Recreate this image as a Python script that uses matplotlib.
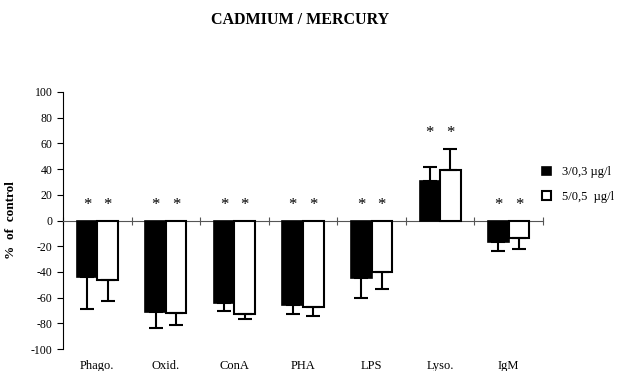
import numpy as np
import matplotlib
matplotlib.use('Agg')
import matplotlib.pyplot as plt
from matplotlib.transforms import blended_transform_factory

plt.rcParams['font.family'] = ['Liberation Serif', 'DejaVu Serif']
plt.rcParams['axes.unicode_minus'] = False

categories = ['Phago.', 'Oxid.', 'ConA', 'PHA', 'LPS', 'Lyso.', 'IgM']
low_dose = [-44, -71, -64, -66, -45, 30.5, -17]
low_err = [25, 12.5, 6.5, 6.5, 15.5, 11.5, 7]
high_dose = [-46, -72, -72.5, -67.5, -40, 39, -14]
high_err = [17, 9, 4.5, 7, 13, 17, 8.5]
series_labels = ['3/0,3 \u00b5g/l', '5/0,5  \u00b5g/l']

fig = plt.figure(figsize=(6.19, 3.71), dpi=100)
ax = fig.add_axes([63 / 619, 1 - 349 / 371, 480 / 619, 257 / 371])

x = np.arange(len(categories)) + 0.5
w = 0.3

ax.bar(x - w / 2, low_dose, w, color='black', edgecolor='black', linewidth=1.2,
       yerr=[[e if v < 0 else 0 for v, e in zip(low_dose, low_err)],
             [e if v > 0 else 0 for v, e in zip(low_dose, low_err)]],
       error_kw=dict(ecolor='black', elinewidth=1.5, capsize=5, capthick=1.5),
       label=series_labels[0], zorder=3)
ax.bar(x + w / 2, high_dose, w, color='white', edgecolor='black', linewidth=1.5,
       yerr=[[e if v < 0 else 0 for v, e in zip(high_dose, high_err)],
             [e if v > 0 else 0 for v, e in zip(high_dose, high_err)]],
       error_kw=dict(ecolor='black', elinewidth=1.5, capsize=5, capthick=1.5),
       label=series_labels[1], zorder=3)

# significance stars
for xi, v1, e1, v2, e2 in zip(x, low_dose, low_err, high_dose, high_err):
    ystar = 12 if v1 < 0 else max(v1 + e1, v2 + e2) + 12
    ax.text(xi - w / 2, ystar, '*', ha='center', va='center', fontsize=12)
    ax.text(xi + w / 2, ystar, '*', ha='center', va='center', fontsize=12)

ax.set_xlim(0, len(categories))
ax.set_ylim(-100, 100)
ax.set_yticks(np.arange(-100, 101, 20))
ax.tick_params(axis='y', direction='out', length=4, labelsize=8.5, width=0.8)

ax.spines['top'].set_visible(False)
ax.spines['right'].set_visible(False)
ax.spines['left'].set_linewidth(0.8)
ax.spines['bottom'].set_position(('data', 0))
ax.spines['bottom'].set_color('#555555')
ax.spines['bottom'].set_linewidth(0.8)
ax.set_xticks(np.arange(0, len(categories) + 1))
ax.set_xticklabels([])
ax.tick_params(axis='x', direction='inout', length=6, width=0.8, color='#555555')

trans = blended_transform_factory(ax.transData, ax.transAxes)
for xi, c in zip(x, categories):
    ax.text(xi, -0.065, c, transform=trans, ha='center', va='center', fontsize=9)

ax.set_ylabel('%  of  control', fontsize=9.5, fontweight='bold')
ax.yaxis.set_label_coords(-0.096, 0.5)

fig.text(300 / 619, 1 - 20 / 371, 'CADMIUM / MERCURY', ha='center', va='center',
         fontsize=11.5, fontweight='bold')

leg = ax.legend(loc='center left', bbox_to_anchor=(0.975, 0.64), frameon=False,
                fontsize=9, handlelength=0.7, handleheight=0.7, handletextpad=0.9,
                labelspacing=1.0)

fig.savefig('out.png', dpi=100)
